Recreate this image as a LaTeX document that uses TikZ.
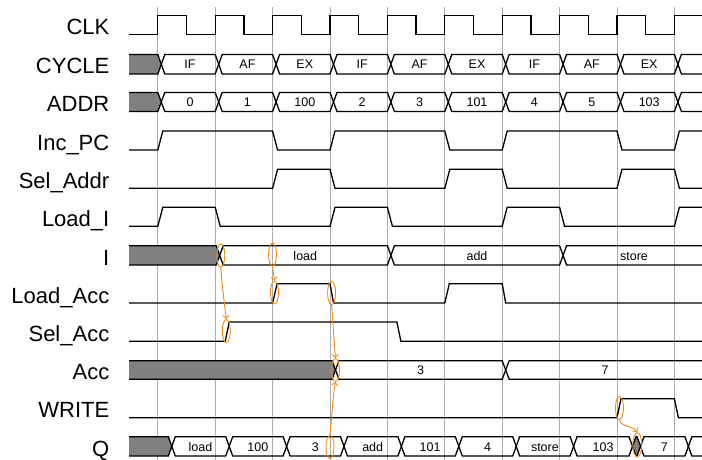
\documentclass[tikz,border=0pt]{standalone}
\usepackage{fontspec}
\setmainfont{Liberation Sans}
\definecolor{ringorange}{RGB}{242, 138, 22}
\definecolor{gridgray}{RGB}{172, 172, 172}
\definecolor{busgray}{RGB}{128, 128, 128}
\usetikzlibrary{arrows.meta, shapes.geometric}
\tikzset{
	siglabel/.style={anchor=base east, inner sep=0pt, font=\fontsize{22}{24}\selectfont},
	busval/.style={anchor=base, inner sep=0pt, font=\fontsize{12.5}{14}\selectfont},
	wave/.style={draw=black, line width=1.3pt},
	gridline/.style={draw=gridgray, line width=0.9pt},
	ring/.style={ellipse, draw=ringorange, line width=0.9pt, minimum width=8pt, minimum height=23pt, inner sep=0pt},
	cause/.style={-{Straight Barb[length=3pt, width=6pt]}, draw=ringorange, line width=0.9pt},
}
% clock edge k
\newcommand{\tk}[1]{157.8+57.4*#1}
% bus value between crossings #2 and #3, top #4, bottom #5
\newcommand{\busseg}[5][]{\path[wave,#1] (#2,{(#4+#5)/2}) -- ({#2+3.5},#4) -- ({#3-3.5},#4) -- (#3,{(#4+#5)/2}) -- ({#3-3.5},#5) -- ({#2+3.5},#5) -- cycle;}
\newcommand{\busstart}[3]{\path[wave, fill=busgray] (129,#2) -- ({#1-3.5},#2) -- (#1,{(#2+#3)/2}) -- ({#1-3.5},#3) -- (129,#3);}
\newcommand{\busend}[3]{\draw[wave] (702,#2) -- ({#1+3.5},#2) -- (#1,{(#2+#3)/2}) -- ({#1+3.5},#3) -- (702,#3);}

\begin{document}
\begin{tikzpicture}[x=1pt, y=-1pt]
	\useasboundingbox (0,0) rectangle (702,460);
	\foreach \i in {0,...,9}{\draw[gridline] ({\tk{\i}},7) -- ({\tk{\i}},460);}

	% signal names
	\node[siglabel] (clk) at (109.5,34.8) {CLK};
	\node[siglabel] (cycle) at (109.5,74) {CYCLE};
	\node[siglabel] (addr) at (109.5,111.7) {ADDR};
	\node[siglabel] (incpc) at (109.5,150) {Inc\_PC};
	\node[siglabel] (seladdr) at (109.5,188.3) {Sel\_Addr};
	\node[siglabel] (loadi) at (109.5,226.3) {Load\_I};
	\node[siglabel] (ireg) at (109.5,265) {I};
	\node[siglabel] (loadacc) at (109.5,303.3) {Load\_Acc};
	\node[siglabel] (selacc) at (109.5,341.5) {Sel\_Acc};
	\node[siglabel] (acc) at (109.5,379.5) {Acc};
	\node[siglabel] (write) at (109.5,417.7) {WRITE};
	\node[siglabel] (qbus) at (109.5,456) {Q};

	% clock
	\draw[wave] (129,34.3) \foreach \i in {0,...,8}{ -- ({\tk{\i}},34.3) -- ({\tk{\i}},15.7) -- ({\tk{\i}+28.7},15.7) -- ({\tk{\i}+28.7},34.3)} -- ({\tk{9}},34.3) -- ({\tk{9}},15.7) -- (702,15.7);

	% CYCLE and ADDR
	\busstart{161.3}{54.5}{74}
	\busstart{161.3}{92.5}{111.5}
	\foreach \c/\d [count=\n] in {IF/0, AF/1, EX/100, IF/2, AF/3, EX/101, IF/4, AF/5, EX/103}{
		\pgfmathsetmacro{\xa}{\tk{(\n-1)}+3.5}
		\pgfmathsetmacro{\xb}{\xa+57.4}
		\busseg{\xa}{\xb}{54.5}{74}
		\busseg{\xa}{\xb}{92.5}{111.5}
		\node[busval] (cyc\n) at ({(\xa+\xb)/2},69) {\c};
		\node[busval] (addr\n) at ({(\xa+\xb)/2},106.8) {\d};
	}
	\busend{677.9}{54.5}{74}
	\busend{677.9}{92.5}{111.5}

	% control lines
	\draw[wave] (129,150) -- ({\tk{0}},150) -- ({\tk{0}+5},131) -- ({\tk{2}},131) -- ({\tk{2}+5},150) -- ({\tk{3}},150) -- ({\tk{3}+5},131) -- ({\tk{5}},131) -- ({\tk{5}+5},150) -- ({\tk{6}},150) -- ({\tk{6}+5},131) -- ({\tk{8}},131) -- ({\tk{8}+5},150) -- ({\tk{9}},150) -- ({\tk{9}+5},131) -- (702,131);
	\draw[wave] (129,188.3) -- ({\tk{2}},188.3) -- ({\tk{2}+5},169.3) -- ({\tk{3}},169.3) -- ({\tk{3}+5},188.3) -- ({\tk{5}},188.3) -- ({\tk{5}+5},169.3) -- ({\tk{6}},169.3) -- ({\tk{6}+5},188.3) -- ({\tk{8}},188.3) -- ({\tk{8}+5},169.3) -- ({\tk{9}},169.3) -- ({\tk{9}+5},188.3) -- (702,188.3);
	\draw[wave] (129,226.3) -- ({\tk{0}},226.3) -- ({\tk{0}+5},207.3) -- ({\tk{1}},207.3) -- ({\tk{1}+5},226.3) -- ({\tk{3}},226.3) -- ({\tk{3}+5},207.3) -- ({\tk{4}},207.3) -- ({\tk{4}+5},226.3) -- ({\tk{6}},226.3) -- ({\tk{6}+5},207.3) -- ({\tk{7}},207.3) -- ({\tk{7}+5},226.3) -- ({\tk{9}},226.3) -- ({\tk{9}+5},207.3) -- (702,207.3);

	% I
	\busstart{219.7}{245.7}{265}
	\foreach \xa/\xb/\v [count=\n] in {219.7/390.9/load, 390.9/563.1/add}{
		\busseg{\xa}{\xb}{245.7}{265}
		\node[busval] (ival\n) at ({(\xa+\xb)/2},260) {\v};
	}
	\busend{563.1}{245.7}{265}
	\node[busval] (ival3) at (634,260) {store};

	\draw[wave] (129,303) -- ({\tk{2}},303) -- ({\tk{2}+4.5},283.7) -- ({\tk{3}},283.7) -- ({\tk{3}+3.5},303) -- ({\tk{5}},303) -- ({\tk{5}+4.5},283.7) -- ({\tk{6}},283.7) -- ({\tk{6}+3.5},303) -- (702,303);
	\draw[wave] (129,341.3) -- ({\tk{1}+10},341.3) -- ({\tk{1}+14},322) -- ({\tk{4}+9.5},322) -- ({\tk{4}+13.5},341.3) -- (702,341.3);

	% Acc
	\busstart{335.5}{360.7}{379.3}
	\busseg{335.5}{505.7}{360.7}{379.3}
	\busend{505.7}{360.7}{379.3}
	\node[busval] (acc1) at (420.6,374.6) {3};
	\node[busval] (acc2) at (605,374.6) {7};

	\draw[wave] (129,417.7) -- ({\tk{8}},417.7) -- ({\tk{8}+4},398.7) -- ({\tk{9}},398.7) -- ({\tk{9}+4},417.7) -- (702,417.7);

	% Q
	\busstart{171.8}{436.7}{456}
	\foreach \xa/\xb/\v [count=\n] in {171.8/229.2/load, 229.2/286.6/100, 286.6/344/3, 344/401.4/add, 401.4/458.8/101, 458.8/516.2/4, 516.2/573.6/store, 573.6/632.5/103, 640.5/688.4/7}{
		\busseg{\xa}{\xb}{436.7}{456}
		\node[busval] (q\n) at ({(\xa+\xb)/2},451) {\v};
	}
	\busseg[fill=busgray]{632.5}{640.5}{436.7}{456}
	\busend{688.4}{436.7}{456}

	% causality marks
	\node[ring] (r1) at (220.8,255.5) {};
	\node[ring] (r2) at (272.5,254.5) {};
	\node[ring] (r3) at (274.5,292.5) {};
	\node[ring] (r4) at (331.6,293) {};
	\node[ring] (r5) at (226.3,331) {};
	\node[ring] (r6) at (335.5,370) {};
	\node[ring] (r7) at (330,447) {};
	\node[ring] (r8) at (619.5,408) {};
	\node[ring, minimum width=9pt, minimum height=24pt] (r9) at (637.3,444.7) {};
	\draw[cause] (r1.south) .. controls (222,285) and (224,300) .. (r5.north);
	\draw[cause] (r2.south) -- (r3.north);
	\draw[cause] (r4.south) .. controls (333,325) and (334,340) .. (r6.north);
	\draw[cause] (r7.north) .. controls (332,415) and (333,395) .. (r6.south);
	\draw[cause] (r8.south) .. controls (621,427) and (632,425) .. (r9.north);
\end{tikzpicture}
\end{document}
